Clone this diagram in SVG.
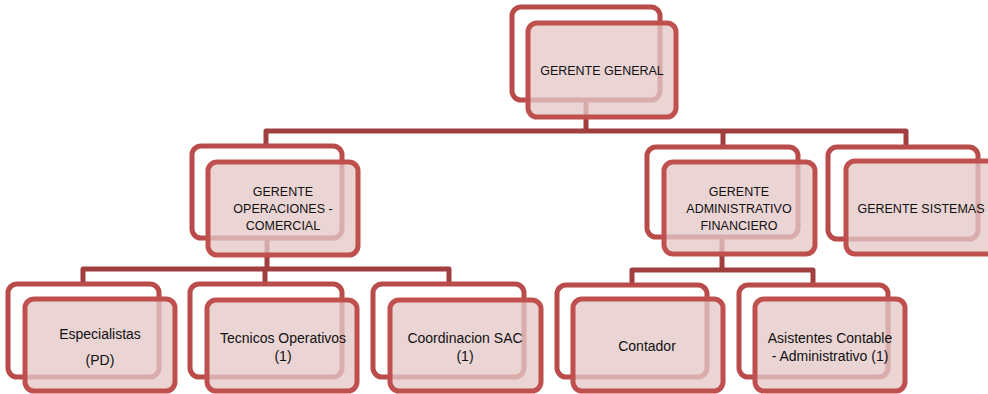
<svg xmlns="http://www.w3.org/2000/svg" width="988" height="394" viewBox="0 0 988 394">
<style>
.conn{fill:none;stroke:#a03f3e;stroke-width:5;stroke-linejoin:round}
.back{fill:#ffffff;stroke:#b94c4a;stroke-width:5}
.front{fill:#e4c8c8;fill-opacity:0.78;stroke:#c0504d;stroke-width:5}
text{font-family:"Liberation Sans",Arial,sans-serif;font-size:12.5px;fill:#111;text-anchor:middle}
text.lc{font-size:14px}
</style>
<rect width="988" height="394" fill="#ffffff"/>
<g id="connectors">
<path class="conn" d="M586,100 V131"/>
<path class="conn" d="M266,147 V131 H906 V147"/>
<path class="conn" d="M723,131 V147"/>
<path class="conn" d="M267,238 V269"/>
<path class="conn" d="M83,284 V269 H449 V284"/>
<path class="conn" d="M265,269 V284"/>
<path class="conn" d="M722,237 V270"/>
<path class="conn" d="M632,285 V270 H813 V285"/>
</g>
<g id="gerente-general">
<rect class="back" x="512" y="7" width="148" height="93" rx="9"/>
<rect class="front" x="528" y="23" width="148" height="94" rx="9"/>
<text x="602" y="75">GERENTE GENERAL</text>
</g>
<g id="gerente-operaciones">
<rect class="back" x="192" y="146" width="150" height="92" rx="9"/>
<rect class="front" x="208" y="162" width="150" height="93" rx="9"/>
<text x="283" y="196">GERENTE</text>
<text x="283" y="213">OPERACIONES -</text>
<text x="283" y="230">COMERCIAL</text>
</g>
<g id="gerente-administrativo">
<rect class="back" x="647" y="147" width="151" height="90" rx="9"/>
<rect class="front" x="664" y="162" width="151" height="92" rx="9"/>
<text x="739" y="196">GERENTE</text>
<text x="739" y="213">ADMINISTRATIVO</text>
<text x="739" y="230">FINANCIERO</text>
</g>
<g id="gerente-sistemas">
<rect class="back" x="828" y="147" width="150" height="92" rx="9"/>
<rect class="front" x="846" y="161" width="150" height="93" rx="9"/>
<text x="921" y="213">GERENTE SISTEMAS</text>
</g>
<g id="especialistas">
<rect class="back" x="8" y="284" width="151" height="93" rx="9"/>
<rect class="front" x="25" y="299" width="150" height="92" rx="9"/>
<text class="lc" x="100" y="339">Especialistas</text>
<text class="lc" x="100" y="365">(PD)</text>
</g>
<g id="tecnicos">
<rect class="back" x="190" y="284" width="152" height="93" rx="9"/>
<rect class="front" x="207" y="300" width="150" height="91" rx="9"/>
<text class="lc" x="283" y="343">Tecnicos Operativos</text>
<text class="lc" x="283" y="361">(1)</text>
</g>
<g id="coordinacion">
<rect class="back" x="373" y="284" width="151" height="93" rx="9"/>
<rect class="front" x="390" y="300" width="151" height="91" rx="9"/>
<text class="lc" x="465" y="343">Coordinacion SAC</text>
<text class="lc" x="465" y="361">(1)</text>
</g>
<g id="contador">
<rect class="back" x="557" y="285" width="150" height="92" rx="9"/>
<rect class="front" x="573" y="299" width="150" height="92" rx="9"/>
<text class="lc" x="647" y="351">Contador</text>
</g>
<g id="asistentes">
<rect class="back" x="739" y="285" width="149" height="92" rx="9"/>
<rect class="front" x="755" y="299" width="150" height="92" rx="9"/>
<text class="lc" x="830" y="343">Asistentes Contable</text>
<text class="lc" x="830" y="361">- Administrativo (1)</text>
</g>
</svg>
